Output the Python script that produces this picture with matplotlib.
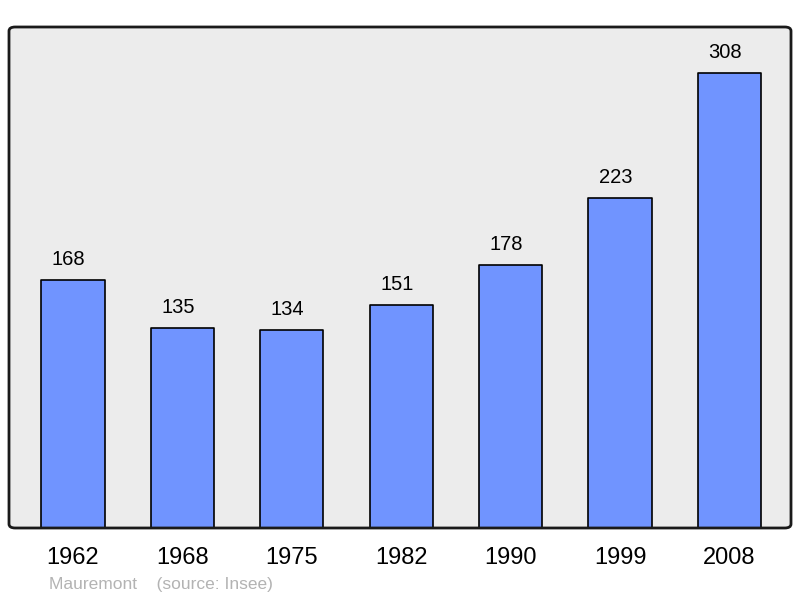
import matplotlib.pyplot as plt
from matplotlib.patches import FancyBboxPatch

years = ["1962", "1968", "1975", "1982", "1990", "1999", "2008"]
population = [168, 135, 134, 151, 178, 223, 308]

plt.rcParams['font.family'] = ['Liberation Sans', 'DejaVu Sans']

fig = plt.figure(figsize=(8, 5.98), dpi=100)
ax = fig.add_axes([9 / 800, 1 - 528 / 598, 782 / 800, 501 / 598])
ax.set_facecolor('#ececec')

x = range(len(years))
bars = ax.bar(x, population, width=0.576, color='#7094ff', edgecolor='black',
              linewidth=1.2, joinstyle='round', zorder=2)
for xi, v in zip(x, population):
    ax.text(xi - 0.04, v + 7.5, str(v), ha='center', va='bottom', fontsize=14.5)

ax.set_xlim(-0.585, 6.563)
ax.set_ylim(0, 339)
ax.set_yticks([])
ax.set_xticks(list(x))
ax.set_xticklabels(years, fontsize=17)
ax.tick_params(axis='x', length=0, pad=14)
for s in ax.spines.values():
    s.set_visible(False)

frame = FancyBboxPatch((0, 0), 1, 1, boxstyle='round,pad=0,rounding_size=0.008',
                       transform=ax.transAxes, facecolor='none', edgecolor='#1a1a1a',
                       linewidth=2, clip_on=False, zorder=3)
ax.add_patch(frame)

fig.text(49 / 800, 1 - 584 / 598, "Mauremont    (source: Insee)", fontsize=12.5,
         color='#b3b3b3', va='center', ha='left')

fig.savefig('out.png', dpi=100)
